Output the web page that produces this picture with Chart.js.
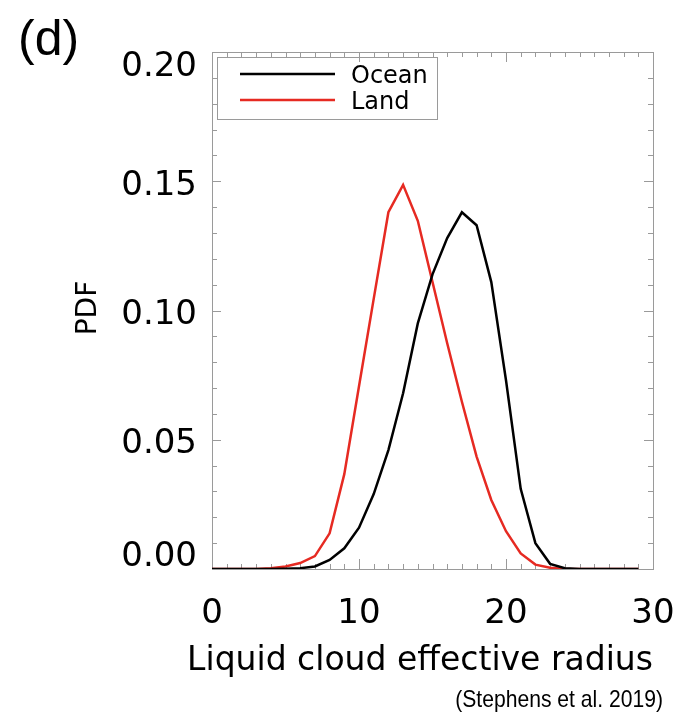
<!DOCTYPE html>
<html>
<head>
<meta charset="utf-8">
<title>Liquid cloud effective radius PDF</title>
<script src="https://cdn.jsdelivr.net/npm/chart.js@4.4.0/dist/chart.umd.min.js"></script>
<style>
  html, body { margin: 0; padding: 0; background: #fff; }
  #chart { display: block; }
</style>
</head>
<body>
<canvas id="chart" width="682" height="718"></canvas>
<script>
// effective radius bins (0..29) and PDF per surface type
const radius = [0, 1, 2, 3, 4, 5, 6, 7, 8, 9, 10, 11, 12, 13, 14, 15, 16, 17, 18, 19, 20, 21, 22, 23, 24, 25, 26, 27, 28, 29];
const oceanPdf = [0, 0, 0, 0, 0, 0.0001, 0.0003, 0.001, 0.0035, 0.008, 0.016, 0.029, 0.046, 0.068, 0.095,
                  0.114, 0.128, 0.138, 0.133, 0.111, 0.073, 0.031, 0.010, 0.002, 0.0003, 0, 0, 0, 0, 0];
const landPdf = [0, 0, 0, 0, 0.0003, 0.001, 0.0023, 0.005, 0.0138, 0.0367, 0.0707, 0.1045, 0.138, 0.1486, 0.1347,
                 0.111, 0.0873, 0.0647, 0.0435, 0.0267, 0.0146, 0.006, 0.0017, 0.0005, 0, 0, 0, 0, 0, 0];

const xTicks = [0, 10, 20, 30];
const yTicks = [0, 0.05, 0.10, 0.15, 0.20];

const FONT = "'DejaVu Sans', 'Noto Sans', sans-serif";
const frameColor = '#9a9a9a';

function toPoints(xs, ys){
    return xs.map((x, i) => ({x: x, y: ys[i]}));
}

// frame + inward ticks on all four sides (IDL style)
const framePlugin = {
    id: 'frame',
    beforeDatasetsDraw(chart){
        const ctx = chart.ctx;
        const a = chart.chartArea;
        const xs = chart.scales.x, ys = chart.scales.y;
        ctx.save();
        ctx.strokeStyle = frameColor;
        ctx.lineWidth = 1;
        ctx.strokeRect(a.left + 0.5, a.top + 0.5, a.right - a.left, a.bottom - a.top);
        ctx.beginPath();
        for (let v = 0; v <= 30; v++){
            const px = Math.round(xs.getPixelForValue(v)) + 0.5;
            const len = (v % 10 === 0) ? 10 : 5;
            ctx.moveTo(px, a.bottom); ctx.lineTo(px, a.bottom - len);
            ctx.moveTo(px, a.top); ctx.lineTo(px, a.top + len);
        }
        for (let k = 0; k <= 20; k++){
            const py = Math.round(ys.getPixelForValue(k / 100)) + 0.5;
            const len = (k % 5 === 0) ? 9 : 5;
            ctx.moveTo(a.left, py); ctx.lineTo(a.left + len, py);
            ctx.moveTo(a.right, py); ctx.lineTo(a.right - len, py);
        }
        ctx.stroke();
        ctx.restore();
    }
};

// y tick labels kept inside the frame, titles, legend, citation
const textPlugin = {
    id: 'texts',
    afterDraw(chart){
        const ctx = chart.ctx;
        const a = chart.chartArea;
        const ys = chart.scales.y;
        ctx.save();
        ctx.fillStyle = '#000';

        // y tick labels
        ctx.font = '34px ' + FONT;
        ctx.textAlign = 'right';
        ctx.textBaseline = 'alphabetic';
        const half = 12;
        yTicks.forEach(v => {
            let cy = ys.getPixelForValue(v) + 1;
            cy = Math.min(Math.max(cy, a.top + half), a.bottom - half - 3);
            ctx.fillText(v.toFixed(2), a.left - 15, cy + 12.4);
        });

        // axis titles
        ctx.textAlign = 'center';
        ctx.font = '33px ' + FONT;
        ctx.fillText('Liquid cloud effective radius', 420, 670);
        ctx.save();
        ctx.translate(96, 308);
        ctx.rotate(-Math.PI / 2);
        ctx.font = '28px ' + FONT;
        ctx.fillText('PDF', 0, 0);
        ctx.restore();

        // panel letter
        ctx.textAlign = 'left';
        ctx.font = '50px "Liberation Sans", Arial, sans-serif';
        ctx.fillText('(d)', 18, 55);

        // citation, condensed
        ctx.save();
        ctx.font = '24px "Liberation Sans", Arial, sans-serif';
        ctx.textAlign = 'right';
        ctx.translate(663, 707);
        ctx.scale(0.88, 1);
        ctx.fillText('(Stephens et al. 2019)', 0, 0);
        ctx.restore();

        // legend box
        ctx.strokeStyle = frameColor;
        ctx.lineWidth = 1;
        ctx.strokeRect(217.5, 57.5, 220, 62);
        ctx.font = '24px ' + FONT;
        ctx.textAlign = 'left';
        chart.data.datasets.forEach((ds, i) => {
            const ly = 74 + i * 26;
            ctx.strokeStyle = ds.borderColor;
            ctx.lineWidth = 2.5;
            ctx.beginPath();
            ctx.moveTo(240, ly); ctx.lineTo(335, ly);
            ctx.stroke();
            ctx.fillText(ds.label, 351, ly + 9);
        });
        ctx.restore();
    }
};

new Chart(document.getElementById('chart').getContext('2d'), {
    type: 'line',
    data: {
        datasets: [{
            label: 'Ocean',
            data: toPoints(radius, oceanPdf),
            borderColor: '#000000',
            borderWidth: 2.5,
            pointRadius: 0,
            tension: 0,
            fill: false
        }, {
            label: 'Land',
            data: toPoints(radius, landPdf),
            borderColor: '#e62a22',
            borderWidth: 2.5,
            pointRadius: 0,
            tension: 0,
            fill: false
        }]
    },
    options: {
        responsive: false,
        animation: false,
        devicePixelRatio: 1,
        layout: {padding: {left: 0, top: 52, right: 29, bottom: 0}},
        plugins: {legend: {display: false}, tooltip: {enabled: false}},
        scales: {
            x: {
                type: 'linear',
                min: 0,
                max: 30,
                afterBuildTicks: s => { s.ticks = xTicks.map(v => ({value: v})); },
                afterFit: s => {
                    s.height = 149;
                    // labels may overhang the plot edges
                    s.paddingLeft = 0;
                    s.paddingRight = 0;
                },
                grid: {display: false},
                border: {display: false},
                ticks: {
                    color: '#000',
                    padding: 17,
                    maxRotation: 0,
                    font: {family: FONT, size: 34}
                }
            },
            y: {
                type: 'linear',
                min: 0,
                max: 0.2,
                afterBuildTicks: s => { s.ticks = yTicks.map(v => ({value: v})); },
                afterFit: s => { s.width = 212; },
                grid: {display: false},
                border: {display: false},
                ticks: {display: false}
            }
        }
    },
    plugins: [framePlugin, textPlugin]
});
</script>
</body>
</html>
